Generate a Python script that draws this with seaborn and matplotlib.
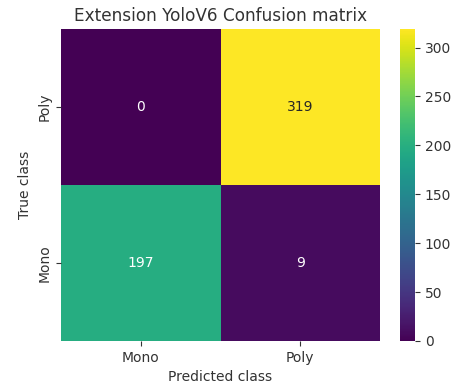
import numpy as np
import pandas as pd
import seaborn as sns
import matplotlib.pyplot as plt

# confusion matrix values (rows = true class, cols = predicted class)
true_labels = ['Poly', 'Mono']
pred_labels = ['Mono', 'Poly']
row_poly = [0, 319]
row_mono = [197, 9]

cm = pd.DataFrame([row_poly, row_mono], index=true_labels, columns=pred_labels)

W, H = 454, 389
fig = plt.figure(figsize=(W / 100, H / 100), dpi=100)
ax = fig.add_axes([61 / W, 1 - 341 / H, 319 / W, 312 / H])
cax = fig.add_axes([400 / W, 1 - 341 / H, 15 / W, 312 / H])

sns.heatmap(cm, annot=True, fmt='d', cmap='viridis', ax=ax, cbar_ax=cax,
            annot_kws={'fontsize': 10})
ax.set_title('Extension YoloV6 Confusion matrix', fontsize=12.2, color='#333333')
ax.set_xlabel('Predicted class', fontsize=10, color='#333333')
ax.set_ylabel('True class', fontsize=10, color='#333333')
ax.tick_params(labelsize=10, colors='#333333')
cax.tick_params(labelsize=10, colors='#333333')
cax.set_yticks([0, 50, 100, 150, 200, 250, 300])

fig.savefig('out.png', dpi=100)
